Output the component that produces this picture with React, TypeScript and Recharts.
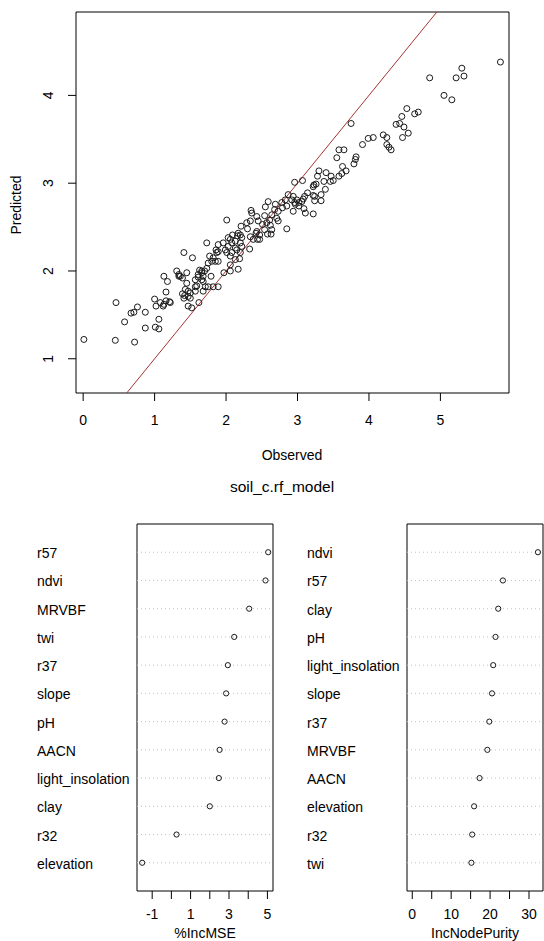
import { ScatterChart, Scatter, XAxis, YAxis, ReferenceLine, ReferenceArea } from 'recharts';

// observed vs predicted soil C
const observed = [
  0.01, 0.46, 0.45, 0.72, 0.58, 0.67, 0.71, 0.76, 0.87, 0.87, 1.01, 1.06, 1.06, 1.00, 1.02, 1.13, 1.16,
  1.16, 1.21, 1.22, 1.13, 1.18, 1.34, 1.34, 1.39, 1.45, 1.31, 1.36, 1.43, 1.39, 1.42, 1.47, 1.50, 1.47,
  1.47, 1.52, 1.57, 1.59, 1.57, 1.61, 1.66, 1.68, 1.62, 1.66, 1.45, 1.08, 1.12, 1.50, 1.41, 1.53, 1.41,
  1.73, 1.63, 1.66, 1.70, 1.61, 1.79, 1.68, 1.57, 1.71, 1.75, 1.82, 1.89, 1.68, 1.73, 1.77, 1.82, 1.80,
  1.85, 1.89, 1.75, 2.01, 2.08, 2.15, 2.19, 2.13, 2.06, 1.97, 2.06, 2.17, 1.96, 1.89, 1.86, 1.87, 1.89,
  2.01, 2.35, 2.36, 2.43, 2.29, 2.34, 2.21, 2.17, 2.20, 2.16, 2.09, 2.06, 2.13, 2.20, 2.34, 2.42, 2.44,
  2.33, 2.03, 2.08, 2.13, 2.03, 1.99, 2.22, 2.20, 2.06, 2.22, 2.38, 2.47, 2.30, 2.54, 2.45, 2.51, 2.57,
  2.61, 2.62, 2.64, 2.54, 2.58, 2.63, 2.47, 2.43, 2.55, 2.64, 2.71, 2.73, 2.85, 2.59, 2.68, 2.69, 2.73,
  2.78, 2.79, 2.83, 2.85, 2.87, 2.94, 2.92, 2.99, 2.94, 2.97, 3.02, 3.06, 3.09, 3.11, 3.22, 3.10, 3.14,
  3.24, 3.24, 3.33, 3.39, 3.07, 2.96, 3.23, 3.22, 3.37, 3.28, 3.30, 3.40, 3.47, 3.02, 3.08, 3.22, 3.33,
  3.26, 3.50, 3.46, 3.58, 3.62, 3.63, 3.68, 3.79, 3.81, 3.82, 3.55, 3.58, 3.65, 3.91, 4.25, 4.28, 4.31,
  3.99, 4.06, 4.20, 4.25, 3.75, 4.46, 4.38, 4.43, 4.49, 4.55, 4.47, 4.53, 4.64, 4.69, 4.85, 5.05, 5.16,
  5.22, 5.33, 5.30, 5.84, 2.96,
];
const predicted = [
  1.22, 1.64, 1.21, 1.19, 1.42, 1.52, 1.53, 1.59, 1.53, 1.35, 1.36, 1.34, 1.45, 1.68, 1.60, 1.62, 1.76,
  1.66, 1.65, 1.64, 1.94, 1.88, 1.96, 1.94, 1.92, 1.98, 2.00, 1.94, 1.79, 1.74, 1.72, 1.71, 1.75, 1.77,
  1.60, 1.58, 1.77, 1.83, 1.90, 1.93, 1.90, 1.94, 1.64, 2.00, 1.86, 1.64, 1.60, 1.69, 1.69, 2.15, 2.21,
  2.03, 2.01, 1.98, 2.00, 1.96, 1.94, 1.88, 1.82, 1.82, 1.82, 1.82, 1.82, 1.77, 2.32, 2.17, 2.15, 2.11,
  2.11, 2.11, 2.09, 2.21, 2.21, 2.24, 2.14, 2.13, 2.07, 1.98, 2.00, 2.02, 2.32, 2.30, 2.24, 2.21, 2.22,
  2.58, 2.69, 2.66, 2.62, 2.55, 2.57, 2.51, 2.43, 2.41, 2.40, 2.41, 2.36, 2.34, 2.32, 2.39, 2.43, 2.36,
  2.25, 2.38, 2.32, 2.26, 2.28, 2.24, 2.28, 2.21, 2.17, 2.38, 2.36, 2.36, 2.48, 2.63, 2.57, 2.53, 2.55,
  2.58, 2.52, 2.47, 2.47, 2.42, 2.42, 2.41, 2.45, 2.73, 2.64, 2.60, 2.57, 2.48, 2.79, 2.70, 2.76, 2.68,
  2.78, 2.72, 2.81, 2.74, 2.87, 2.85, 2.81, 2.81, 2.68, 2.76, 2.74, 2.79, 2.71, 2.66, 2.65, 2.85, 2.89,
  2.85, 2.80, 2.80, 2.93, 3.03, 3.01, 2.98, 2.96, 3.02, 3.08, 3.14, 3.12, 3.08, 2.78, 2.82, 2.86, 2.87,
  2.99, 3.03, 3.02, 3.08, 3.11, 3.19, 3.14, 3.22, 3.27, 3.30, 3.29, 3.38, 3.38, 3.44, 3.44, 3.41, 3.38,
  3.51, 3.52, 3.55, 3.52, 3.68, 3.76, 3.67, 3.68, 3.64, 3.57, 3.52, 3.85, 3.79, 3.81, 4.20, 4.00, 3.95,
  4.20, 4.22, 4.31, 4.38, 2.78,
];
const fitTicksX = [0, 1, 2, 3, 4, 5];
const fitTicksY = [1, 2, 3, 4];

// variable importance (varImpPlot)
const mseVars = ['r57', 'ndvi', 'MRVBF', 'twi', 'r37', 'slope', 'pH', 'AACN', 'light_insolation', 'clay', 'r32', 'elevation'];
const mseVals = [5.04, 4.9, 4.05, 3.27, 2.94, 2.85, 2.77, 2.51, 2.47, 2.0, 0.27, -1.52];
const purityVars = ['ndvi', 'r57', 'clay', 'pH', 'light_insolation', 'slope', 'r37', 'MRVBF', 'AACN', 'elevation', 'r32', 'twi'];
const purityVals = [32.3, 23.3, 22.1, 21.4, 20.8, 20.5, 19.8, 19.3, 17.3, 15.9, 15.4, 15.2];
const mseTicks = [-1, 0, 1, 2, 3, 4, 5];
const mseLabelled = [-1, 1, 3, 5];
const purityTicks = [0, 5, 10, 15, 20, 25, 30];
const purityLabelled = [0, 10, 20, 30];

const FONT = '"Liberation Sans", Arial, sans-serif';
const INK = '#000';
const FS = 14;

const fitX: [number, number] = [-0.1, 5.96];
const fitY: [number, number] = [0.61, 4.95];
const mseX: [number, number] = [-1.79, 5.29];
const purityX: [number, number] = [-1.35, 33.6];

const ring = (r: number) => (p: any) => (
  <circle cx={p.cx} cy={p.cy} r={r} fill="none" stroke="#1a1a1a" strokeWidth={1} />
);

const label = (x: number, y: number, text: string, rotate = false) => () => (
  <text
    x={x}
    y={y}
    textAnchor="middle"
    dominantBaseline="central"
    transform={rotate ? `rotate(-90 ${x} ${y})` : undefined}
    fontFamily={FONT}
    fontSize={FS}
    fill={INK}
  >
    {text}
  </text>
);

function ImportancePanel({ names, values, domain, ticks, labelled, axisWidth, labelX, width, right, title }: any) {
  const n = names.length;
  const data = values.map((v: number, i: number) => ({ x: v, y: n - i }));
  const rows = names.map((_: string, i: number) => n - i);
  const plotLeft = axisWidth;
  const plotRight = width - right;

  return (
    <ScatterChart width={width} height={441} margin={{ top: 24, right, bottom: 0, left: 0 }}>
      <XAxis
        type="number"
        dataKey="x"
        domain={domain}
        allowDataOverflow
        ticks={ticks}
        interval={0}
        height={50}
        axisLine={false}
        tickSize={8}
        tickMargin={0}
        tickLine={{ stroke: INK }}
        tick={(p: any) =>
          labelled.includes(p.payload.value) ? (
            <text x={p.x} y={p.y + 15} textAnchor="middle" dominantBaseline="central" fontFamily={FONT} fontSize={FS} fill={INK}>
              {p.payload.value}
            </text>
          ) : (
            <g />
          )
        }
        label={label((plotLeft + plotRight) / 2, 432.5, title)}
      />
      <YAxis
        type="number"
        dataKey="y"
        domain={[0, n + 1]}
        allowDataOverflow
        ticks={rows}
        interval={0}
        width={axisWidth}
        axisLine={false}
        tickLine={false}
        tick={(p: any) => (
          <text x={labelX} y={p.y + 1} textAnchor="start" dominantBaseline="central" fontFamily={FONT} fontSize={FS} fill={INK}>
            {names[n - p.payload.value]}
          </text>
        )}
      />
      {rows.map((r: number) => (
        <ReferenceLine key={r} y={r} stroke="#c4c4c4" strokeDasharray="1 3" ifOverflow="visible" />
      ))}
      <ReferenceArea x1={domain[0]} x2={domain[1]} y1={0} y2={n + 1} fill="none" stroke={INK} strokeWidth={1} ifOverflow="visible" />
      <Scatter data={data} shape={ring(2.6)} isAnimationActive={false} />
    </ScatterChart>
  );
}

export default function App() {
  const fitData = observed.map((o, i) => ({ x: o, y: predicted[i] }));

  return (
    <div style={{ position: 'absolute', left: 0, top: 0, width: 544, height: 941, background: '#fff', fontFamily: FONT }}>
      <ScatterChart width={544} height={470} margin={{ top: 12, right: 35, bottom: 17, left: 16 }}>
        <XAxis
          type="number"
          dataKey="x"
          domain={fitX}
          allowDataOverflow
          ticks={fitTicksX}
          interval={0}
          height={60}
          axisLine={false}
          tickSize={8}
          tickMargin={0}
          tickLine={{ stroke: INK }}
          tick={(p: any) => (
            <text x={p.x} y={p.y + 19} textAnchor="middle" dominantBaseline="central" fontFamily={FONT} fontSize={FS} fill={INK}>
              {p.payload.value}
            </text>
          )}
          label={label(292, 455, 'Observed')}
        />
        <YAxis
          type="number"
          dataKey="y"
          domain={fitY}
          allowDataOverflow
          ticks={fitTicksY}
          interval={0}
          width={60}
          axisLine={false}
          tickSize={8}
          tickMargin={0}
          tickLine={{ stroke: INK }}
          tick={(p: any) => {
            const x = p.x - 20;
            return (
              <text x={x} y={p.y} transform={`rotate(-90 ${x} ${p.y})`} textAnchor="middle" dominantBaseline="central" fontFamily={FONT} fontSize={FS} fill={INK}>
                {p.payload.value}
              </text>
            );
          }}
          label={label(16, 205, 'Predicted', true)}
        />
        <ReferenceArea x1={fitX[0]} x2={fitX[1]} y1={fitY[0]} y2={fitY[1]} fill="none" stroke={INK} strokeWidth={1} ifOverflow="visible" />
        <ReferenceLine segment={[{ x: 0, y: 0 }, { x: 6, y: 6 }]} ifOverflow="hidden" stroke="#a83232" strokeWidth={1} />
        <Scatter data={fitData} shape={ring(3)} isAnimationActive={false} />
      </ScatterChart>

      <div
        style={{
          position: 'absolute',
          left: 282,
          top: 478,
          transform: 'translateX(-50%)',
          fontSize: 15.5,
          lineHeight: '18px',
          color: INK,
          whiteSpace: 'nowrap',
        }}
      >
        soil_c.rf_model
      </div>

      <div style={{ position: 'absolute', left: 0, top: 500 }}>
        <ImportancePanel
          names={mseVars}
          values={mseVals}
          domain={mseX}
          ticks={mseTicks}
          labelled={mseLabelled}
          axisWidth={137}
          labelX={37}
          width={280}
          right={7}
          title="%IncMSE"
        />
      </div>
      <div style={{ position: 'absolute', left: 280, top: 500 }}>
        <ImportancePanel
          names={purityVars}
          values={purityVals}
          domain={purityX}
          ticks={purityTicks}
          labelled={purityLabelled}
          axisWidth={127}
          labelX={27}
          width={264}
          right={1}
          title="IncNodePurity"
        />
      </div>
    </div>
  );
}
